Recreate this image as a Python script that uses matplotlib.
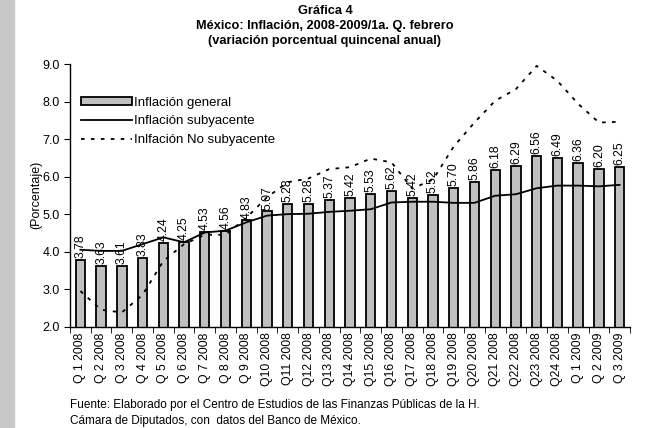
import matplotlib
matplotlib.use("Agg")
import matplotlib.pyplot as plt
from matplotlib.patches import Rectangle

plt.rcParams["font.family"] = ["Liberation Sans", "DejaVu Sans"]

categories = [
    "Q 1 2008", "Q 2 2008", "Q 3 2008", "Q 4 2008", "Q 5 2008", "Q 6 2008",
    "Q 7 2008", "Q 8 2008", "Q 9 2008", "Q10 2008", "Q11 2008", "Q12 2008",
    "Q13 2008", "Q14 2008", "Q15 2008", "Q16 2008", "Q17 2008", "Q18 2008",
    "Q19 2008", "Q20 2008", "Q21 2008", "Q22 2008", "Q23 2008", "Q24 2008",
    "Q 1 2009", "Q 2 2009", "Q 3 2009",
]
general = [3.78, 3.63, 3.61, 3.83, 4.24, 4.25, 4.53, 4.56, 4.83, 5.07, 5.28, 5.28,
           5.37, 5.42, 5.53, 5.62, 5.42, 5.52, 5.70, 5.86, 6.18, 6.29, 6.56, 6.49,
           6.36, 6.20, 6.25]
subyacente = [4.05, 4.02, 4.02, 4.20, 4.38, 4.25, 4.51, 4.56, 4.78, 4.96, 5.00, 5.01,
              5.06, 5.09, 5.13, 5.31, 5.33, 5.33, 5.30, 5.30, 5.49, 5.53, 5.69, 5.76,
              5.76, 5.74, 5.78]
no_subyacente = [2.95, 2.45, 2.38, 2.85, 3.75, 4.20, 4.45, 4.45, 4.90, 5.45, 5.85, 5.95,
                 6.20, 6.25, 6.48, 6.38, 5.68, 5.92, 6.80, 7.44, 8.02, 8.33, 8.95, 8.55,
                 7.94, 7.44, 7.46]

fig = plt.figure(figsize=(6.5, 4.28), dpi=100)
fig.patches.append(Rectangle((0, 0), 14 / 650, 1, transform=fig.transFigure,
                             color="#c8c8c8", zorder=0))
ax = fig.add_axes([70 / 650, 1 - 326.7 / 428, 560 / 650, 262.7 / 428])

x = list(range(len(categories)))
bars = ax.bar(x, general, width=0.45, bottom=0, color="#c0c0c0", edgecolor="black",
              linewidth=1.3, label="Inflación general", zorder=2)
l1, = ax.plot(x, subyacente, color="black", lw=1.3, label="Inflación subyacente",
              zorder=3)
l2, = ax.plot(x, no_subyacente, color="black", lw=1.3, linestyle=(0, (2, 3.5)),
              label="Inlfación No subyacente", zorder=3)

for xi, v in zip(x, general):
    ax.text(xi, v + 0.05, f"{v:.2f}", rotation=90, ha="center", va="bottom",
            fontsize=8.8, zorder=4)

ax.set_xlim(-0.5, len(categories) - 0.5)
ax.set_ylim(2.0, 9.0)
ax.set_yticks([2, 3, 4, 5, 6, 7, 8, 9])
ax.set_yticklabels([f"{t:.1f}" for t in ax.get_yticks()], fontsize=9)
ax.set_xticks(x)
ax.set_xticklabels(categories, rotation=90, fontsize=8.8)
ax.tick_params(axis="x", length=0, pad=4)
ax.set_xticks([i - 0.5 for i in range(len(categories) + 1)], minor=True)
ax.tick_params(axis="x", which="minor", length=4, direction="out", color="black")
ax.tick_params(axis="y", length=4, direction="out", color="black")
for side in ["top", "right"]:
    ax.spines[side].set_visible(False)
ax.spines["left"].set_linewidth(1.0)
ax.spines["bottom"].set_linewidth(1.0)
ax.set_ylabel("(Porcentaje)", fontsize=9, labelpad=0)

leg = ax.legend([bars, l1, l2],
                ["Inflación general", "Inflación subyacente", "Inlfación No subyacente"],
                loc="upper left", bbox_to_anchor=(0.01, 0.895), frameon=False,
                fontsize=9.5, handlelength=3.9, handleheight=0.6, handletextpad=0.1,
                labelspacing=0.5, borderaxespad=0)

fig.text(0.5, 0.974, "Gráfica 4", ha="center", va="center", fontsize=9.2,
         fontweight="bold")
fig.text(0.5, 0.939, "México: Inflación, 2008-2009/1a. Q. febrero", ha="center",
         va="center", fontsize=9.2, fontweight="bold")
fig.text(0.5, 0.904, "(variación porcentual quincenal anual)", ha="center",
         va="center", fontsize=9.2, fontweight="bold")

fig.text(70 / 650, 1 - 405 / 428,
         "Fuente: Elaborado por el Centro de Estudios de las Finanzas Públicas de la H.",
         ha="left", va="center", fontsize=8.5)
fig.text(70 / 650, 1 - 421 / 428,
         "Cámara de Diputados, con  datos del Banco de México.",
         ha="left", va="center", fontsize=8.5)

fig.savefig("out.png", dpi=100)
